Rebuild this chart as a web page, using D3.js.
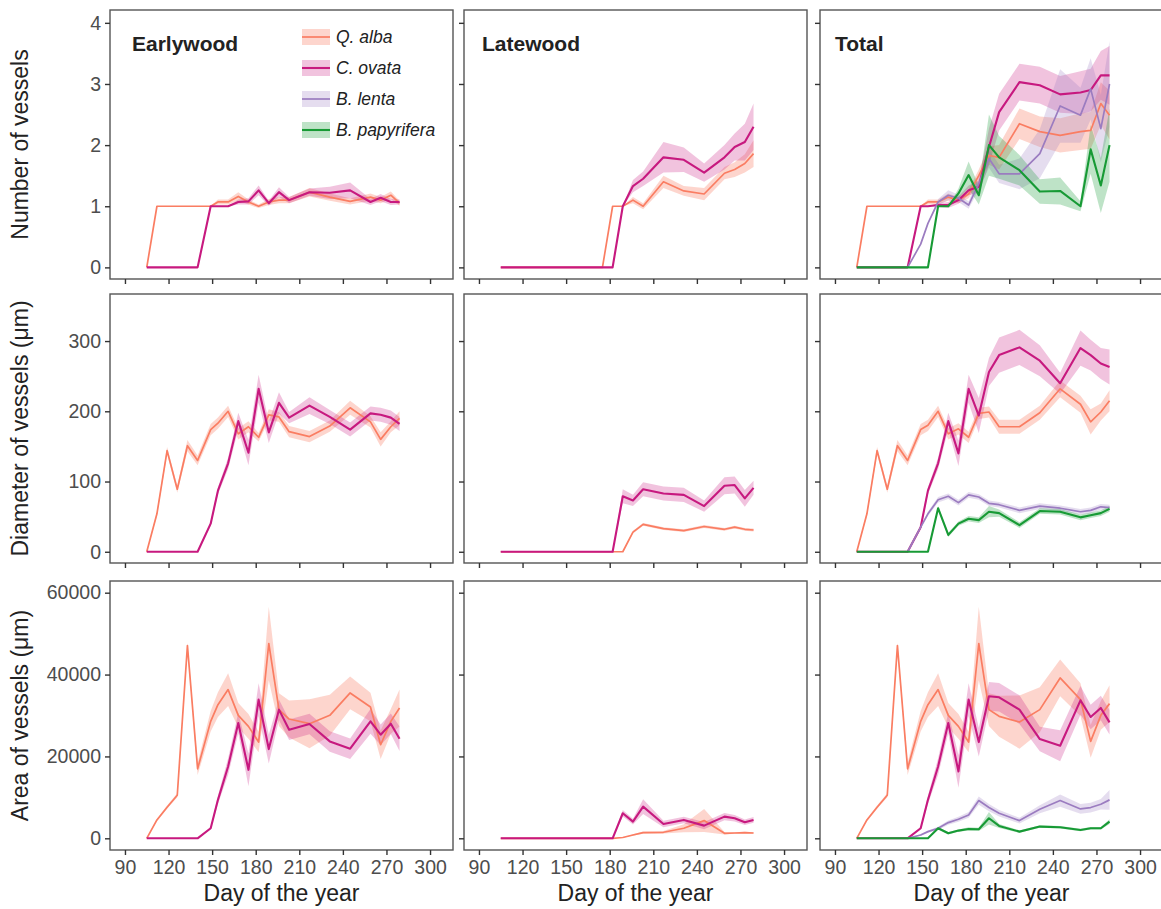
<!DOCTYPE html>
<html>
<head>
<meta charset="utf-8">
<script src="https://cdn.jsdelivr.net/npm/d3@7"></script>
<style>
  body { margin: 0; background: #fff; }
  svg { display: block; font-family: "Liberation Sans", Arial, sans-serif; }
</style>
</head>
<body>
<svg id="chart" width="1161" height="909"></svg>
<script>
// sampling days (B. lenta only sampled from day 140)
const days = [105,112,119,126,133,140,149,154,161,168,175,182,189,196,203,217,231,245,259,266,273,279];
const daysLenta = [140,149,154,161,168,175,182,189,196,203,217,231,245,259,266,273,279];

const species = ["Q. alba", "C. ovata", "B. lenta", "B. papyrifera"];
const colors = ["#fa7d62", "#c7197f", "#9b7cc0", "#179a35"];
const lineWidths = [1.7, 2.1, 1.7, 2.1];
const ribbonOpacity = [0.32, 0.26, 0.26, 0.28];

const panelTitles = ["Earlywood", "Latewood", "Total"];
const rowTitles = ["Number of vessels", "Diameter of vessels (\u03bcm)", "Area of vessels (\u03bcm)"];
const xTicks = [90,120,150,180,210,240,270,300];
const numTicks = [0,1,2,3,4];
const diamTicks = [0,100,200,300];
const areaTicks = [0,20000,40000,60000];

// ---- Number of vessels ----
const nEarlyAlba   = [0,1,1,1,1,1,1,1.07,1.07,1.16,1.07,1.0,1.07,1.1,1.1,1.23,1.15,1.08,1.15,1.1,1.18,1.05];
const nEarlyAlbaSe = [0,0,0,0,0,0,0,0.04,0.04,0.07,0.04,0.03,0.05,0.05,0.05,0.07,0.06,0.05,0.06,0.05,0.06,0.04];
const nEarlyOvata   = [0,0,0,0,0,0,1,1,1,1.07,1.08,1.26,1.05,1.23,1.1,1.23,1.22,1.26,1.07,1.14,1.07,1.07];
const nEarlyOvataSe = [0,0,0,0,0,0,0,0,0,0.04,0.05,0.08,0.04,0.08,0.05,0.06,0.1,0.13,0.05,0.06,0.05,0.04];
const nLateAlba   = [0,0,0,0,0,0,0,0,0,0,0,1,1,1.1,1.0,1.4,1.25,1.2,1.54,1.6,1.7,1.86];
const nLateAlbaSe = [0,0,0,0,0,0,0,0,0,0,0,0,0,0.05,0.05,0.1,0.08,0.1,0.1,0.12,0.15,0.22];
const nLateOvata   = [0,0,0,0,0,0,0,0,0,0,0,0,1,1.33,1.45,1.8,1.76,1.55,1.8,1.97,2.05,2.3];
const nLateOvataSe = [0,0,0,0,0,0,0,0,0,0,0,0,0,0.1,0.12,0.25,0.2,0.15,0.2,0.22,0.3,0.38];
const nTotalAlba   = [0,1,1,1,1,1,1,1.07,1.07,1.15,1.1,1.2,1.5,1.83,1.8,2.35,2.22,2.16,2.22,2.24,2.68,2.49];
const nTotalAlbaSe = [0,0,0,0,0,0,0,0.04,0.04,0.06,0.05,0.07,0.1,0.15,0.2,0.25,0.25,0.28,0.3,0.3,0.35,0.4];
const nTotalOvata   = [0,0,0,0,0,0,1,1,1.02,1.02,1.1,1.26,1.32,1.97,2.54,3.03,2.98,2.83,2.86,2.9,3.14,3.14];
const nTotalOvataSe = [0,0,0,0,0,0,0,0,0.03,0.05,0.06,0.08,0.1,0.3,0.3,0.3,0.3,0.3,0.35,0.35,0.4,0.48];
const nTotalLenta   = [0,0.38,0.72,1.07,1.18,1.13,1.02,1.37,1.78,1.53,1.53,1.86,2.64,2.49,2.92,2.27,3.0];
const nTotalLentaSe = [0,0,0,0.05,0.08,0.06,0.06,0.1,0.15,0.15,0.25,0.4,0.6,0.45,0.5,0.55,0.7];
const nTotalPapy   = [0,0,0,0,0,0,0,0,1,1,1.21,1.51,1.18,2.0,1.8,1.59,1.24,1.25,1.0,1.93,1.34,2.0];
const nTotalPapySe = [0,0,0,0,0,0,0,0,0,0,0.08,0.22,0.15,0.5,0.35,0.25,0.2,0.22,0.08,0.4,0.45,0.6];

// ---- Diameter of vessels ----
const dEarlyAlba   = [0,54,144,89,151,130,174,183,200,168,178,163,195,192,171,164,179,205,185,160,178,190];
const dEarlyAlbaSe = [0,3,5,5,8,7,8,8,8,8,8,6,8,7,8,8,8,10,8,10,8,10];
const dEarlyOvata   = [0,0,0,0,0,0,40,87,126,186,141,232,170,212,191,208,192,174,197,195,191,182];
const dEarlyOvataSe = [0,0,0,0,0,0,3,5,8,12,18,20,15,15,8,12,10,10,10,10,10,10];
const dLateAlba   = [0,0,0,0,0,0,0,0,0,0,0,0,0,28,39,33,30,36,32,35,32,31];
const dLateAlbaSe = [0,0,0,0,0,0,0,0,0,0,0,0,0,2,2,2,2,2,2,2,2,2];
const dLateOvata   = [0,0,0,0,0,0,0,0,0,0,0,0,79,73,89,83,81,65,94,95,76,91];
const dLateOvataSe = [0,0,0,0,0,0,0,0,0,0,0,0,10,8,10,10,10,8,12,12,12,10];
const dTotalAlba   = [0,54,144,89,151,130,174,180,200,168,175,163,197,199,178,178,198,232,210,185,199,215];
const dTotalAlbaSe = [0,3,5,5,8,7,8,8,8,8,8,8,8,8,10,10,10,12,12,18,12,15];
const dTotalOvata   = [0,0,0,0,0,0,35,87,126,186,140,232,194,256,280,291,272,240,290,280,268,263];
const dTotalOvataSe = [0,0,0,0,0,0,3,5,8,12,18,20,25,20,25,25,22,15,25,22,22,25];
const dTotalLenta   = [0,35,54,74,79,70,81,78,69,67,59,65,62,57,59,64,63];
const dTotalLentaSe = [0,2,3,4,4,4,4,4,4,4,4,4,4,4,4,4,4];
const dTotalPapy   = [0,0,0,0,0,0,0,0,62,24,40,47,45,57,55,38,58,57,49,52,55,61];
const dTotalPapySe = [0,0,0,0,0,0,0,0,3,3,3,4,4,8,5,4,4,4,4,4,4,4];

// ---- Area of vessels ----
const aEarlyAlba   = [0,4490,7590,10530,47100,16980,28570,32650,36330,30040,27350,23510,47590,31430,29140,28000,30040,35510,32080,22860,28570,31840];
const aEarlyAlbaSe = [0,300,400,500,600,1500,2500,3000,4000,3000,3000,2500,9000,4000,4500,6000,5000,4000,3500,3500,3000,4500];
const aEarlyOvata   = [0,0,0,0,0,0,2450,9400,17550,28160,16730,33880,21800,31430,26530,27920,23670,21880,28570,25300,28000,24330];
const aEarlyOvataSe = [0,0,0,0,0,0,300,1000,2000,2500,4000,4000,3500,2500,2500,2500,2500,2500,3000,2500,2500,3000];
const aLateAlba   = [0,0,0,0,0,0,0,0,0,0,0,0,200,800,1390,1470,2450,4330,1220,1300,1390,1300];
const aLateAlbaSe = [0,0,0,0,0,0,0,0,0,0,0,0,0,200,300,300,1000,2800,300,200,200,200];
const aLateOvata   = [0,0,0,0,0,0,0,0,0,0,0,0,6120,4080,7750,3510,4490,3100,5300,4900,3920,4490];
const aLateOvataSe = [0,0,0,0,0,0,0,0,0,0,0,0,800,700,1800,800,800,900,900,800,700,700];
const aTotalAlba   = [0,4490,7590,10530,47100,16980,28570,32650,36330,30040,27350,23510,47590,31430,29800,28400,31430,39180,33880,23670,30040,32900];
const aTotalAlbaSe = [0,300,400,500,600,1500,2500,3000,4000,3000,3000,2500,9000,4000,5000,6500,5500,4500,4000,4000,3500,4500];
const aTotalOvata   = [0,0,0,0,0,0,2450,9400,17550,28160,16330,33880,23510,34690,34450,31430,24250,22610,33710,29630,31840,28330];
const aTotalOvataSe = [0,0,0,0,0,0,300,1000,2000,2500,4000,4000,3500,3500,3500,3500,3000,3800,3500,3000,3000,3000];
const aTotalLenta   = [0,800,1630,2450,3840,4650,5710,9220,7510,6120,4330,7100,9220,7180,7510,8330,9390];
const aTotalLentaSe = [0,200,300,400,500,600,700,1000,900,800,700,1000,1500,1200,1200,1300,2400];
const aTotalPapy   = [0,0,0,0,0,0,0,0,2450,1220,1880,2290,2200,4900,3020,1630,2860,2690,2040,2450,2450,4080];
const aTotalPapySe = [0,0,0,0,0,0,0,0,300,300,300,400,400,1500,500,300,300,300,300,300,300,600];

// build series list per panel: [speciesIndex, x days, mean, se]
function s(i, x, m, e) { return { sp: i, x: x, m: m, e: e }; }
const rows = [
  { ticks: numTicks, domain: [-0.19, 4.21], panels: [
    [s(0, days, nEarlyAlba, nEarlyAlbaSe), s(1, days, nEarlyOvata, nEarlyOvataSe)],
    [s(0, days, nLateAlba, nLateAlbaSe), s(1, days, nLateOvata, nLateOvataSe)],
    [s(0, days, nTotalAlba, nTotalAlbaSe), s(1, days, nTotalOvata, nTotalOvataSe),
     s(2, daysLenta, nTotalLenta, nTotalLentaSe), s(3, days, nTotalPapy, nTotalPapySe)]
  ]},
  { ticks: diamTicks, domain: [-16, 367], panels: [
    [s(0, days, dEarlyAlba, dEarlyAlbaSe), s(1, days, dEarlyOvata, dEarlyOvataSe)],
    [s(0, days, dLateAlba, dLateAlbaSe), s(1, days, dLateOvata, dLateOvataSe)],
    [s(0, days, dTotalAlba, dTotalAlbaSe), s(1, days, dTotalOvata, dTotalOvataSe),
     s(2, daysLenta, dTotalLenta, dTotalLentaSe), s(3, days, dTotalPapy, dTotalPapySe)]
  ]},
  { ticks: areaTicks, domain: [-2857, 62857], panels: [
    [s(0, days, aEarlyAlba, aEarlyAlbaSe), s(1, days, aEarlyOvata, aEarlyOvataSe)],
    [s(0, days, aLateAlba, aLateAlbaSe), s(1, days, aLateOvata, aLateOvataSe)],
    [s(0, days, aTotalAlba, aTotalAlbaSe), s(1, days, aTotalOvata, aTotalOvataSe),
     s(2, daysLenta, aTotalLenta, aTotalLentaSe), s(3, days, aTotalPapy, aTotalPapySe)]
  ]}
];

// layout
var colLeft = [110, 464, 820];
var rowTop = [10, 294, 581];
var pw = 343, ph = 269;
var xDomain = [79.7, 315.8];

var svg = d3.select("#chart");

rows.forEach(function (row, r) {
  var y = d3.scaleLinear().domain(row.domain).range([rowTop[r] + ph, rowTop[r]]);

  // y axis title
  svg.append("text")
    .attr("transform", "translate(28," + (rowTop[r] + ph / 2) + ") rotate(-90)")
    .attr("text-anchor", "middle")
    .attr("font-size", 23)
    .attr("fill", "#222")
    .text(rowTitles[r]);

  row.panels.forEach(function (series, c) {
    var x = d3.scaleLinear().domain(xDomain).range([colLeft[c], colLeft[c] + pw]);

    var g = svg.append("g");

    // ribbons first
    series.forEach(function (sr) {
      var pts = sr.x.map(function (d, i) { return [d, sr.m[i], sr.e[i]]; });
      var area = d3.area()
        .x(function (d) { return x(d[0]); })
        .y0(function (d) { return y(d[1] - d[2]); })
        .y1(function (d) { return y(d[1] + d[2]); });
      g.append("path")
        .datum(pts)
        .attr("d", area)
        .attr("fill", colors[sr.sp])
        .attr("fill-opacity", ribbonOpacity[sr.sp]);
    });

    // then lines
    series.forEach(function (sr) {
      var pts = sr.x.map(function (d, i) { return [d, sr.m[i]]; });
      var line = d3.line()
        .x(function (d) { return x(d[0]); })
        .y(function (d) { return y(d[1]); });
      g.append("path")
        .datum(pts)
        .attr("d", line)
        .attr("fill", "none")
        .attr("stroke", colors[sr.sp])
        .attr("stroke-width", lineWidths[sr.sp])
        .attr("stroke-linejoin", "round");
    });

    // panel border
    svg.append("rect")
      .attr("x", colLeft[c]).attr("y", rowTop[r])
      .attr("width", pw).attr("height", ph)
      .attr("fill", "none")
      .attr("stroke", "#555")
      .attr("stroke-width", 1.4);

    // x axis
    var xa = svg.append("g")
      .attr("transform", "translate(0," + (rowTop[r] + ph) + ")")
      .call(d3.axisBottom(x).tickValues(xTicks).tickSize(5).tickPadding(5)
        .tickFormat(r === 2 ? d3.format("d") : ""));
    xa.select(".domain").remove();
    xa.selectAll(".tick line").attr("stroke", "#333").attr("stroke-width", 1.4);
    xa.selectAll(".tick text").attr("font-size", 19.5).attr("fill", "#4d4d4d")
      .attr("font-family", "Liberation Sans, Arial, sans-serif");

    // y axis
    var ya = svg.append("g")
      .attr("transform", "translate(" + colLeft[c] + ",0)")
      .call(d3.axisLeft(y).tickValues(row.ticks).tickSize(5).tickPadding(4)
        .tickFormat(c === 0 ? d3.format("d") : ""));
    ya.select(".domain").remove();
    ya.selectAll(".tick line").attr("stroke", "#333").attr("stroke-width", 1.4);
    ya.selectAll(".tick text").attr("font-size", 19.5).attr("fill", "#4d4d4d")
      .attr("font-family", "Liberation Sans, Arial, sans-serif");

    // x axis title on bottom row
    if (r === 2) {
      svg.append("text")
        .attr("x", colLeft[c] + pw / 2)
        .attr("y", 901)
        .attr("text-anchor", "middle")
        .attr("font-size", 23)
        .attr("fill", "#222")
        .text("Day of the year");
    }

    // panel title on top row
    if (r === 0) {
      svg.append("text")
        .attr("x", [132, 482, 835][c])
        .attr("y", 51)
        .attr("font-size", 21)
        .attr("font-weight", "bold")
        .attr("fill", "#222")
        .text(panelTitles[c]);
    }
  });
});

// legend inside the first panel
var leg = svg.append("g").attr("transform", "translate(302,29)");
species.forEach(function (name, i) {
  var gy = i * 31;
  leg.append("rect")
    .attr("x", 0).attr("y", gy)
    .attr("width", 28).attr("height", 16)
    .attr("fill", colors[i]).attr("fill-opacity", ribbonOpacity[i]);
  leg.append("line")
    .attr("x1", 0).attr("x2", 28)
    .attr("y1", gy + 8).attr("y2", gy + 8)
    .attr("stroke", colors[i]).attr("stroke-width", lineWidths[i]);
  leg.append("text")
    .attr("x", 34).attr("y", gy + 8)
    .attr("dy", "0.35em")
    .attr("font-size", 17.5)
    .attr("font-style", "italic")
    .attr("fill", "#222")
    .text(name);
});
</script>
</body>
</html>
